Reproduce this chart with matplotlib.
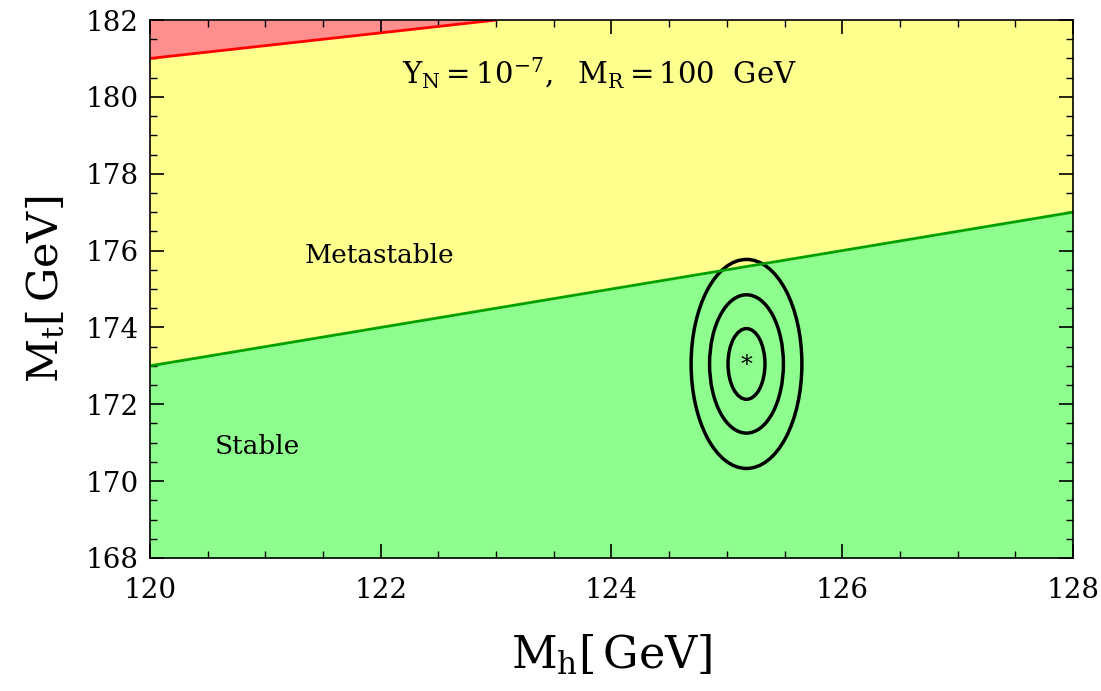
import matplotlib.pyplot as plt
from matplotlib.patches import Ellipse
from matplotlib.ticker import MultipleLocator

plt.rcParams['font.family'] = ['DejaVu Serif']
plt.rcParams['mathtext.fontset'] = 'dejavuserif'

# Stability boundaries (M_h, M_t)
stab_mh = [120, 128]
stab_mt = [173.0, 177.0]
inst_mh = [120, 123]
inst_mt = [181.0, 182.0]

# Experimental point and 1,2,3 sigma ellipse half-widths
mh0, mt0 = 125.17, 173.05
sig_mh = [0.16, 0.32, 0.48]
sig_mt = [0.92, 1.80, 2.72]

fig = plt.figure(figsize=(11.01, 6.91), dpi=100)
ax = fig.add_axes([0.1362, 0.1925, 0.8384, 0.7785])

xlo, xhi, ylo, yhi = 120, 128, 168, 182
ax.fill_between(stab_mh, ylo, stab_mt, color='#8eff8e', lw=0)
ax.fill_between(stab_mh, stab_mt, yhi, color='#ffff8e', lw=0)
ax.fill_between(inst_mh, inst_mt, yhi, color='#ff8e8e', lw=0)
ax.plot(stab_mh, stab_mt, color='#00a000', lw=2)
ax.plot(inst_mh, inst_mt, color='#ff0000', lw=2)

for sx, sy in zip(sig_mh, sig_mt):
    ax.add_patch(Ellipse((mh0, mt0), 2 * sx, 2 * sy, fill=False,
                         ec='black', lw=2.5))
ax.text(mh0, mt0 - 0.05, '*', ha='center', va='center', fontsize=17)

ax.text(121.34, 175.88, 'Metastable', fontsize=19, va='center')
ax.text(120.56, 170.9, 'Stable', fontsize=19, va='center')
ax.text(123.9, 180.6,
        r'$\mathregular{Y_N = 10^{-7},\ \ M_R = 100\ \ GeV}$',
        fontsize=21, ha='center', va='center')

ax.set_xlim(xlo, xhi)
ax.set_ylim(ylo, yhi)
ax.xaxis.set_major_locator(MultipleLocator(2))
ax.xaxis.set_minor_locator(MultipleLocator(0.5))
ax.yaxis.set_major_locator(MultipleLocator(2))
ax.yaxis.set_minor_locator(MultipleLocator(0.5))
ax.tick_params(which='both', direction='in', top=True, right=True,
               labelsize=20)
ax.tick_params(which='major', length=10, width=1.2)
ax.tick_params(which='minor', length=5, width=1.0)
ax.tick_params(axis='x', pad=14)
ax.tick_params(axis='y', pad=8)
for s in ax.spines.values():
    s.set_linewidth(1.2)

ax.set_xlabel(r'$\mathregular{M_h[\,GeV]}$', fontsize=32, labelpad=20)
ax.set_ylabel(r'$\mathregular{M_t[\,GeV]}$', fontsize=31, labelpad=14)

fig.savefig('out.png', dpi=100)
